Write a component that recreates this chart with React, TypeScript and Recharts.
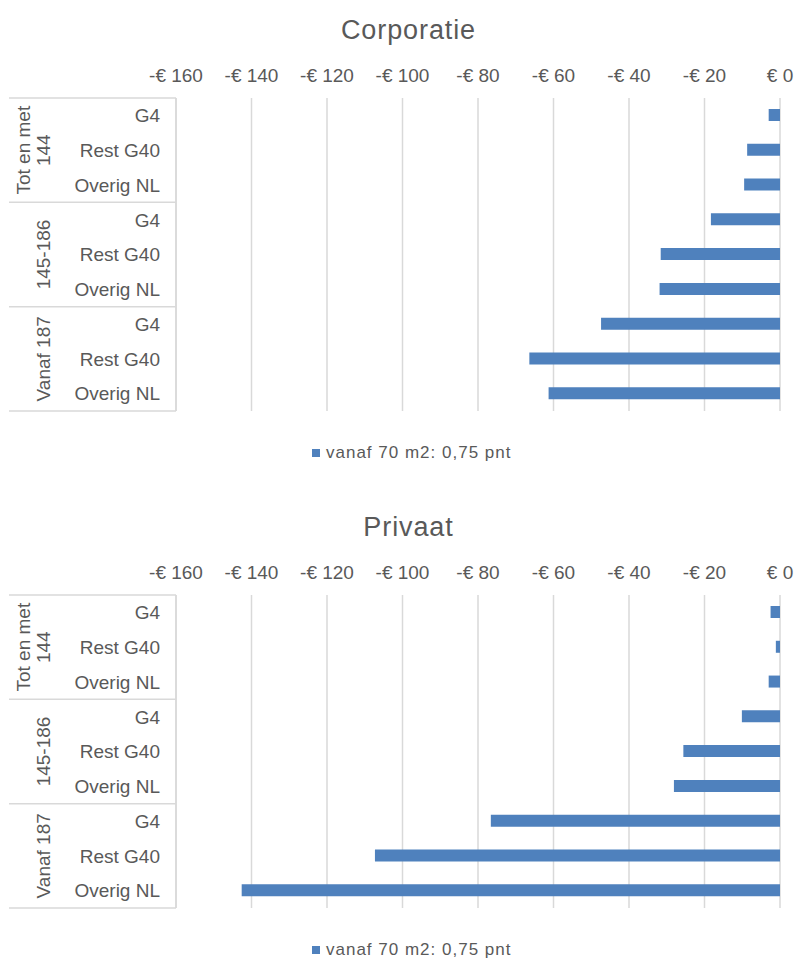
import React from 'react';
import { BarChart, Bar, XAxis, YAxis, CartesianGrid } from 'recharts';

const groups = ['Tot en met 144', '145-186', 'Vanaf 187'];
const subCategories = ['G4', 'Rest G40', 'Overig NL'];
const xTicks = [-160, -140, -120, -100, -80, -60, -40, -20, 0];
const seriesName = 'vanaf 70 m2: 0,75 pnt';

const corporatieValues = [-3.0, -8.7, -9.5, -18.3, -31.6, -31.9, -47.4, -66.4, -61.3];
const privaatValues = [-2.5, -1.1, -3.0, -10.1, -25.6, -28.1, -76.6, -107.3, -142.6];

const TEXT = '#595959';
const GRID = '#d9d9d9';
const BAR = '#4F81BD';
const FONT = '"Liberation Sans", Arial, sans-serif';

const buildRows = (values: number[]) =>
  groups.flatMap((g, gi) =>
    subCategories.map((s, si) => ({
      key: `${g}|${s}`,
      value: values[gi * 3 + si],
    })),
  );

const euro = (v: number) => (v === 0 ? '€ 0' : `-€ ${Math.abs(v)}`);

// sub label + group brackets, drawn per tick
function CategoryTick(props: any) {
  const { x, y, payload, index } = props;
  const [group, sub] = String(payload.value).split('|');
  const half = payload.offset ?? 0;
  const pos = index % 3;
  const lines = group === 'Tot en met 144' ? ['Tot en met', '144'] : [group];
  return (
    <g>
      <text x={x} y={y} dy="0.36em" textAnchor="end" fill={TEXT} fontSize={19} fontFamily={FONT}>
        {sub}
      </text>
      {pos === 0 && <line x1={9} x2={176} y1={y - half} y2={y - half} stroke={GRID} strokeWidth={1.5} />}
      {index === 8 && <line x1={9} x2={176} y1={y + half} y2={y + half} stroke={GRID} strokeWidth={1.5} />}
      {pos === 1 && (
        <text
          transform={`translate(${lines.length > 1 ? 30 : 50}, ${y}) rotate(-90)`}
          textAnchor="middle"
          fill={TEXT}
          fontSize={19}
          fontFamily={FONT}
        >
          {lines.map((l, i) => (
            <tspan key={l} x={0} dy={i === 0 ? 0 : 20}>
              {l}
            </tspan>
          ))}
        </text>
      )}
    </g>
  );
}

function Panel({ title, values }: { title: string; values: number[] }) {
  const data = buildRows(values);
  return (
    <div style={{ position: 'relative', width: 795, height: 497 }}>
      <div
        style={{
          position: 'absolute',
          top: 17,
          left: 0,
          width: 795,
          paddingLeft: 22,
          boxSizing: 'border-box',
          textAlign: 'center',
          fontFamily: FONT,
          fontSize: 27,
          lineHeight: '27px',
          letterSpacing: 0.9,
          color: TEXT,
        }}
      >
        {title}
      </div>
      <BarChart
        width={795}
        height={497}
        data={data}
        layout="vertical"
        margin={{ top: 68, right: 15, left: 0, bottom: 86 }}
      >
        <CartesianGrid horizontal={false} stroke={GRID} strokeWidth={1.5} />
        <XAxis
          type="number"
          orientation="top"
          domain={[-160, 0]}
          ticks={xTicks}
          tickFormatter={euro}
          height={30}
          tickSize={0}
          tickMargin={16}
          axisLine={false}
          tickLine={false}
          tick={{ fill: TEXT, fontSize: 19, fontFamily: FONT }}
          interval={0}
        />
        <YAxis
          type="category"
          dataKey="key"
          width={176}
          tickSize={0}
          tickMargin={16}
          tickLine={false}
          axisLine={{ stroke: GRID, strokeWidth: 1.5 }}
          tick={<CategoryTick />}
          interval={0}
        />
        <Bar dataKey="value" name={seriesName} fill={BAR} barSize={12} isAnimationActive={false} />
      </BarChart>
      <div
        style={{
          position: 'absolute',
          top: 444,
          left: 312,
          display: 'flex',
          alignItems: 'center',
          fontFamily: FONT,
          fontSize: 17,
          lineHeight: '17px',
          color: TEXT,
          whiteSpace: 'nowrap',
        }}
      >
        <span style={{ width: 8, height: 8, background: BAR, display: 'inline-block', marginRight: 6 }} />
        <span style={{ letterSpacing: 1 }}>{seriesName}</span>
      </div>
    </div>
  );
}

export default function App() {
  return (
    <div
      style={{
        position: 'absolute',
        left: 0,
        top: 0,
        width: 795,
        height: 959,
        overflow: 'hidden',
        background: '#fff',
      }}
    >
      <Panel title="Corporatie" values={corporatieValues} />
      <Panel title="Privaat" values={privaatValues} />
    </div>
  );
}
